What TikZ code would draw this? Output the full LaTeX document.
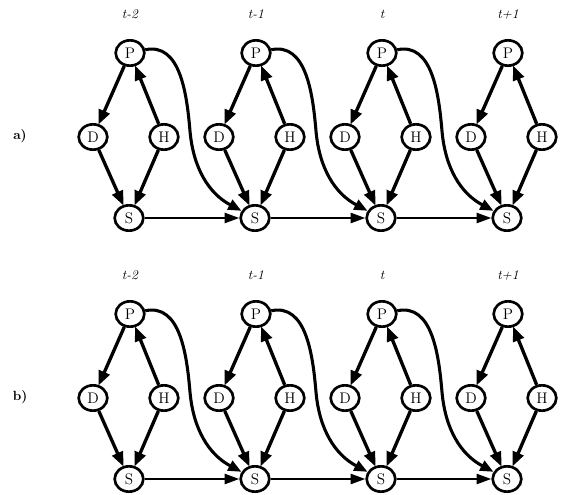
\documentclass[tikz,border=0pt]{standalone}
\usetikzlibrary{arrows.meta,shapes.geometric,calc}
\begin{document}
\begin{tikzpicture}[x=0.75pt,y=0.75pt,
  var/.style={ellipse,draw,line width=2pt,minimum width=21.5pt,minimum height=19pt,inner sep=0pt,fill=white,font=\fontsize{11.5}{12}\selectfont},
  tlab/.style={font=\fontsize{10}{11}\selectfont\itshape},
  plab/.style={font=\fontsize{10}{11}\selectfont\bfseries},
  edge/.style={line width=2.5pt,-{Triangle[length=11pt,width=8.5pt]},shorten >=-0.5pt},
  curve/.style={line width=2.3pt,-{Triangle[length=10pt,width=8pt]}},
  hedge/.style={line width=1.8pt,-{Triangle[length=11pt,width=7.5pt]}}]
\useasboundingbox (0,0) rectangle (561,494);
\foreach \p/\oy/\lab in {a/0/a), b/-261/b)} {
  \node[plab] (lab\p) at (20,{358+\oy}) {\lab};
  \foreach \i/\cx/\tl in {1/130/t-2, 2/256/t-1, 3/382/t, 4/508/t+1} {
    \node[tlab] (T\p\i) at (\cx,{480+\oy}) {\tl};
    \node[var] (P\p\i) at (\cx,{441+\oy}) {P};
    \node[var] (D\p\i) at ({\cx-37},{357+\oy}) {D};
    \node[var] (H\p\i) at ({\cx+34},{357+\oy}) {H};
    \node[var] (S\p\i) at ({\cx-1},{276+\oy}) {S};
    \draw[edge] (P\p\i) -- (D\p\i);
    \draw[edge] (H\p\i) -- (P\p\i);
    \draw[edge] (D\p\i) -- (S\p\i);
    \draw[edge] (H\p\i) -- (S\p\i);
  }
  \foreach \i/\j in {1/2,2/3,3/4} {
    \draw[curve] (P\p\i) to[out=12,in=95] ($(P\p\i)+(60,-78)$) to[out=-85,in=152] (S\p\j);
    \draw[hedge] (S\p\i) -- (S\p\j);
  }
}
\end{tikzpicture}
\end{document}
